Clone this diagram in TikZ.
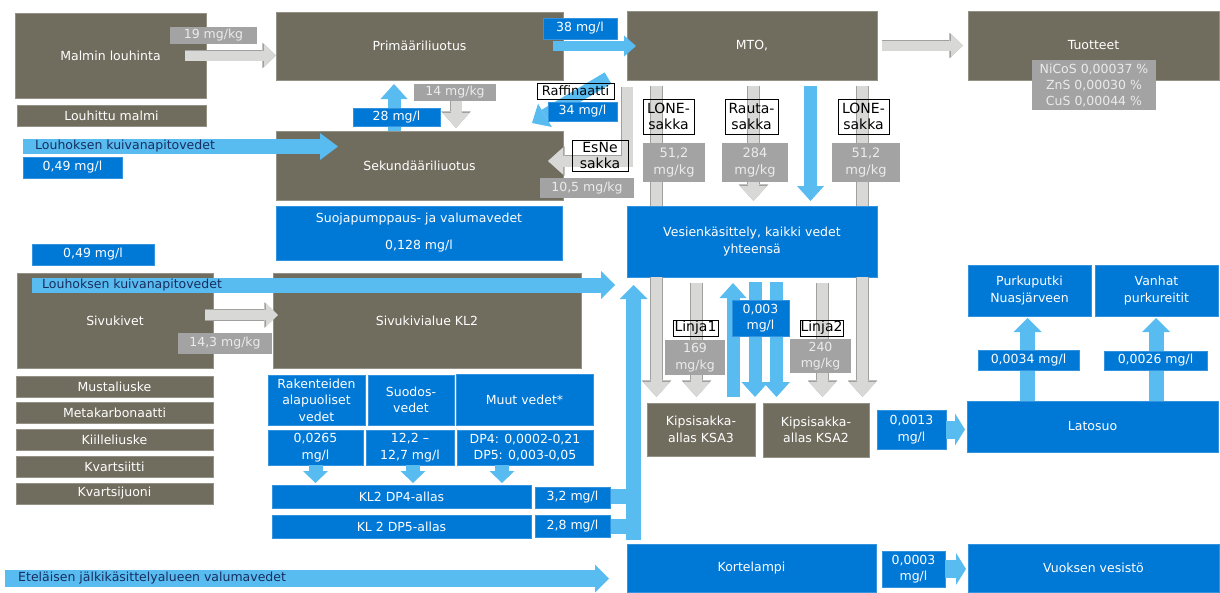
\documentclass[tikz,border=0pt]{standalone}
\usepackage{fontspec}
\setmainfont{DejaVu Sans}
\usetikzlibrary{arrows.meta}

\definecolor{rockgrey}{RGB}{112,108,94}
\definecolor{waterblue}{RGB}{0,120,214}
\definecolor{flowblue}{RGB}{88,188,240}
\definecolor{flowgrey}{RGB}{216,216,214}
\definecolor{flowedge}{RGB}{160,160,158}
\definecolor{valgrey}{RGB}{163,163,163}
\definecolor{bartextcol}{RGB}{25,45,95}

\newcommand\flowfont{\fontsize{12.5}{16.5}\selectfont}
\newcommand\tagfont{\fontsize{14}{16.5}\selectfont}
\newcommand\valfont{\fontsize{13}{17}\selectfont}
\newcommand\prodfont{\fontsize{12.5}{16}\selectfont}

\tikzset{
  sz/.style 2 args={minimum width=#1, minimum height=#2},
  box/.style={inner sep=0pt, outer sep=0pt, align=center, font=\flowfont, text=white},
  rock/.style={box, fill=rockgrey, draw=rockgrey!75!white, line width=0.6pt},
  water/.style={box, fill=waterblue, draw=waterblue!80!white, line width=0.6pt},
  greyval/.style={box, fill=valgrey, text=white!92!black},
  tag/.style={box, draw=black, line width=0.9pt, text=black, font=\tagfont},
  bartext/.style={inner sep=0pt, font=\flowfont, text=bartextcol},
  greyflow/.style={draw=flowgrey, line width=11pt, -{Triangle[length=15pt,width=27pt,line width=0pt]},
    preaction={draw=flowedge, line width=12.6pt, -{Triangle[length=16.6pt,width=29.6pt,line width=0pt]}}},
  greythin/.style={draw=flowgrey, line width=10pt, -{Triangle[length=12pt,width=23pt,line width=0pt]},
    preaction={draw=flowedge, line width=11.6pt, -{Triangle[length=13.6pt,width=25.6pt,line width=0pt]}}},
  greyshaft/.style={draw=flowgrey, line width=11pt, preaction={draw=flowedge, line width=12.6pt}},
  blueflow/.style={draw=flowblue, line width=13pt, -{Triangle[length=15pt,width=27pt,line width=0pt]}},
  bluethin/.style={draw=flowblue, line width=10pt, -{Triangle[length=12pt,width=21pt,line width=0pt]}},
  bluebar/.style={draw=flowblue, line width=15pt, -{Triangle[length=14pt,width=28pt,line width=0pt]}},
  bluesmall/.style={draw=flowblue, line width=14pt, -{Triangle[length=12pt,width=25pt,line width=0pt]}},
  bluestub/.style={draw=flowblue, line width=18pt, -{Triangle[length=10pt,width=32pt,line width=0pt]}},
  bluepipe/.style={draw=flowblue, line width=15pt},
}

\begin{document}
\begin{tikzpicture}[x=1pt,y=-1pt]
\useasboundingbox (0,0) rectangle (1220,592);

% rock side
\node[rock, sz={191}{85}] (malmi) at (110.5,55.5) {Malmin louhinta};
\node[rock, sz={189}{21}] (louhittu) at (111.5,115.5) {Louhittu malmi};
\node[rock, sz={287}{68}] (prim) at (419.5,46) {Primääriliuotus};
\node[rock, sz={250}{69}] (mto) at (752,45.5) {MTO,};
\node[rock, sz={251}{69}] (tuotteet) at (1093.5,45.5) {Tuotteet};
\node[rock, sz={287}{69}] (sek) at (419.5,165.5) {Sekundääriliuotus};
\node[rock, sz={196}{95}] (sivukivet) at (115,320.5) {Sivukivet};
\node[rock, sz={308}{95}] (kl2) at (427,320.5) {Sivukivialue KL2};
\foreach \rockname [count=\i] in {Mustaliuske,Metakarbonaatti,Kiilleliuske,Kvartsiitti,Kvartsijuoni}
  \node[rock, sz={197}{21}] (rock\i) at (114.5,{386.5+26.75*(\i-1)}) {\rockname};
\node[rock, sz={108}{53}] (ksa3) at (701,429.5) {Kipsisakka-\\allas KSA3};
\node[rock, sz={106}{54}] (ksa2) at (816,430) {Kipsisakka-\\allas KSA2};

% water side
\node[water, sz={286}{54}] (suoja) at (419,233) {Suojapumppaus- ja valumavedet\\[10.5pt]0,128 mg/l};
\node[water, sz={250}{71}] (vesi) at (752,241.5) {Vesienkäsittely, kaikki vedet\\yhteensä};
\node[water, sz={123}{51}] (purku) at (1029.5,290.5) {Purkuputki\\Nuasjärveen};
\node[water, sz={123}{51}] (vanhat) at (1156.5,290.5) {Vanhat\\purkureitit};
\node[water, sz={251}{51}] (latosuo) at (1092.5,426.5) {Latosuo};
\node[water, sz={249}{48}] (kortelampi) at (751.5,568) {Kortelampi};
\node[water, sz={251}{48}] (vuoksen) at (1093.5,568) {Vuoksen vesistö};
\node[water, sz={97}{50}] (rak) at (316.5,400) {Rakenteiden\\alapuoliset\\vedet};
\node[water, sz={86}{50}] (suodos) at (411,400) {Suodos-\\vedet};
\node[water, sz={137}{51}] (muut) at (524.5,399.5) {Muut vedet*};
\node[water, sz={95}{35}] (rakval) at (315.5,447.5) {0,0265\\mg/l};
\node[water, sz={88}{35}] (suodosval) at (410,447.5) {12,2 –\\12,7 mg/l};
\node[water, sz={136}{35}] (muutval) at (525,447.5) {DP4: 0,0002-0,21\\DP5: 0,003-0,05};
\node[water, sz={259}{23}] (dp4) at (401.5,496.5) {KL2 DP4-allas};
\node[water, sz={259}{23}] (dp5) at (401.5,526.5) {KL 2 DP5-allas};

% flows
\draw[greythin] ([xshift=-21pt]malmi.east) -- (prim.west |- malmi.east);
\draw[bluethin] ([xshift=-10pt]prim.east) -- ([xshift=9pt]mto.west |- prim.east);
\draw[greythin] ([xshift=5pt]mto.east) -- ([xshift=-5pt]tuotteet.west);
\draw[blueflow, shorten >=4pt] ([xshift=-25.5pt]sek.north) -- ([xshift=-25.5pt]prim.south);
\draw[greyflow, shorten <=4pt, shorten >=3pt] ([xshift=36.5pt]prim.south) -- ([xshift=36.5pt]sek.north);
\coordinate (raffout) at (608,78);
\draw[blueflow, shorten >=15.7pt] (raffout) -- ([xshift=-44.5pt]sek.north east);
\draw[greyflow] ([yshift=-7pt]mto.south west) |- ([xshift=-15pt,yshift=4.5pt]sek.east);

\coordinate (louhos1) at (23,146.5);
\draw[bluebar, -{Triangle[length=18pt,width=27pt,line width=0pt]}] (louhos1) -- ([xshift=62pt]sek.west |- louhos1);
\coordinate (louhos2) at (32,285);
\draw[bluebar] (louhos2) -- ([xshift=-12pt]vesi.west |- louhos2);
\coordinate (etel) at (5,578.5);
\draw[bluebar, line width=17pt] (etel) -- ([xshift=-18pt]kortelampi.west |- etel);
\draw[greythin] ([xshift=-8pt,yshift=5.5pt]sivukivet.east) -- ([xshift=5pt,yshift=5.5pt]kl2.west);

\coordinate (xlone1) at ([xshift=-95.5pt]mto.south);
\coordinate (xrauta) at ([xshift=1.5pt]mto.south);
\coordinate (xmto) at ([xshift=58.5pt]mto.south);
\coordinate (xlone2) at ([xshift=110.5pt]mto.south);
\draw[greyshaft, shorten <=6pt] (xlone1) -- (xlone1 |- vesi.north);
\draw[greyflow, shorten >=6pt] (xlone1 |- vesi.south) -- (xlone1 |- ksa3.north);
\draw[greyflow, shorten <=6pt, shorten >=5pt] (xrauta) -- (xrauta |- vesi.north);
\draw[blueflow, shorten <=6pt, shorten >=5pt] (xmto) -- (xmto |- vesi.north);
\draw[greyshaft, shorten <=6pt] (xlone2) -- (xlone2 |- vesi.north);
\draw[greyflow, shorten >=6pt] (xlone2 |- vesi.south) -- (xlone2 |- ksa2.north);

\coordinate (xlinja1) at ([xshift=-55.5pt]vesi.south);
\coordinate (xup) at ([xshift=-19pt]vesi.south);
\coordinate (xdown1) at ([xshift=3pt]vesi.south);
\coordinate (xdown2) at ([xshift=24.5pt]vesi.south);
\coordinate (xlinja2) at ([xshift=70.5pt]vesi.south);
\draw[greyflow, shorten <=6pt, shorten >=6pt] (xlinja1) -- (xlinja1 |- ksa3.north);
\draw[blueflow, shorten <=6pt, shorten >=6pt] (xup |- ksa3.north) -- (xup);
\draw[blueflow, shorten <=5pt, shorten >=6pt] (xdown1) -- (xdown1 |- ksa3.north);
\draw[blueflow, shorten <=5pt, shorten >=6pt] (xdown2) -- (xdown2 |- ksa2.north);
\draw[greyflow, shorten <=6pt, shorten >=6pt] (xlinja2) -- (xlinja2 |- ksa2.north);

\foreach \src/\dx in {rakval/0,suodosval/3,muutval/-23}
  \draw[bluesmall, shorten >=2pt] ([xshift=\dx pt]\src.south) -- ([xshift=\dx pt]\src.south |- dp4.north);
\coordinate (dpjoin) at (633.5,540);
\draw[bluepipe] ([xshift=36pt]dp4.east) -- (dpjoin |- dp4.east);
\draw[bluepipe] ([xshift=36pt]dp5.east) -- (dpjoin |- dp5.east);
\draw[bluebar, shorten >=8pt] (dpjoin) -- (dpjoin |- vesi.south);

\coordinate (xpurku) at ([xshift=-65pt]latosuo.north);
\coordinate (xvanhat) at ([xshift=63.5pt]latosuo.north);
\draw[bluebar, shorten >=2pt] (xpurku) -- (xpurku |- purku.south);
\draw[bluebar, shorten >=2pt] (xvanhat) -- (xvanhat |- vanhat.south);

% labels on the flows
\node[bartext, anchor=west] (louhos1txt) at ([xshift=12pt]louhos1) {Louhoksen kuivanapitovedet};
\node[bartext, anchor=west] (louhos2txt) at ([xshift=10pt]louhos2) {Louhoksen kuivanapitovedet};
\node[bartext, anchor=west] (eteltxt) at ([xshift=13pt]etel) {Eteläisen jälkikäsittelyalueen valumavedet};

\node[greyval, sz={87}{17}] (g19) at (213.5,35.5) {19 mg/kg};
\node[greyval, sz={82}{17}] (g14) at (455,92.5) {14 mg/kg};
\node[greyval, sz={94}{20}] (g105) at (587,188) {10,5 mg/kg};
\node[greyval, sz={62}{39}, font=\valfont] (g512a) at (674,162.5) {51,2\\mg/kg};
\node[greyval, sz={66}{39}, font=\valfont] (g284) at (755,162.5) {284\\mg/kg};
\node[greyval, sz={68}{39}, font=\valfont] (g512b) at (866,162.5) {51,2\\mg/kg};
\node[greyval, sz={94}{21}] (g143) at (225,343.5) {14,3 mg/kg};
\node[greyval, sz={60}{35}] (g169) at (695,357.5) {169\\mg/kg};
\node[greyval, sz={61}{34}] (g240) at (820.5,356) {240\\mg/kg};
\node[greyval, sz={124}{50}, font=\prodfont] (tuote) at (1094,85) {NiCoS 0,00037 \%\\ZnS 0,00030 \%\\CuS 0,00044 \%};

\node[water, sz={74}{21}] (v38) at (580,28.5) {38 mg/l};
\node[water, sz={69}{19}] (v34) at (582.5,111.5) {34 mg/l};
\node[water, sz={87}{18}] (v28) at (396.5,117) {28 mg/l};
\node[water, sz={99}{21}] (v049a) at (72.5,167.5) {0,49 mg/l};
\node[water, sz={122}{21}] (v049b) at (93,254.5) {0,49 mg/l};
\node[water, sz={57}{36}] (v0003) at (760.5,318) {0,003\\mg/l};
\node[water, sz={75}{21}] (v32) at (572.5,497.5) {3,2 mg/l};
\node[water, sz={75}{22}] (v28b) at (572.5,526) {2,8 mg/l};
\node[water, sz={101}{20}] (v0034) at (1028.5,360) {0,0034 mg/l};
\node[water, sz={103}{19}] (v0026) at (1155.5,360.5) {0,0026 mg/l};
\node[water, sz={69}{39}] (v0013) at (911.5,429.5) {0,0013\\mg/l};
\node[water, sz={63}{36}] (v00003) at (913.5,569) {0,0003\\mg/l};
\draw[bluestub, shorten >=2pt] (v0013.east) -- (latosuo.west |- v0013.east);
\draw[bluestub, shorten >=2pt] (v00003.east) -- (vuoksen.west |- v00003.east);

\node[tag, sz={77}{16}, font=\fontsize{13}{15}\selectfont] (raff) at (575.5,91) {Raffinaatti};
\node[tag, sz={56}{31}] (esne) at (600,155.5) {EsNe\\sakka};
\node[tag, sz={51}{35}] (lone1) at (668.5,116.5) {LONE-\\sakka};
\node[tag, sz={53}{35}] (rauta) at (751.5,116.5) {Rauta-\\sakka};
\node[tag, sz={51}{35}] (lone2) at (863.5,116.5) {LONE-\\sakka};
\node[tag, sz={45}{16}] (linja1) at (695.5,328) {Linja1};
\node[tag, sz={43}{16}] (linja2) at (821.5,328) {Linja2};
\end{tikzpicture}
\end{document}
